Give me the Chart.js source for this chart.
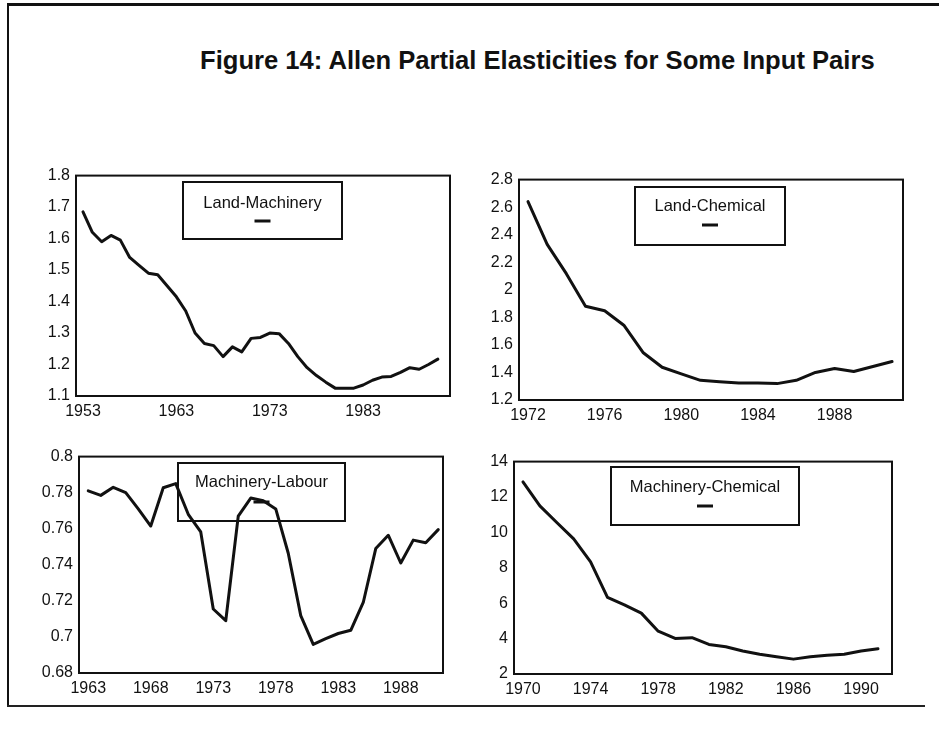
<!DOCTYPE html>
<html>
<head>
<meta charset="utf-8">
<script src="https://cdn.jsdelivr.net/npm/chart.js@4.4.1/dist/chart.umd.min.js"></script>
<style>
  body { margin: 0; background: #fff; width: 939px; height: 730px; position: relative; overflow: hidden;
         font-family: "Liberation Sans", Arial, Helvetica, sans-serif; }
  .frame-top { position: absolute; left: 7px; top: 3px; width: 932px; height: 3px; background: #111; }
  .frame-left { position: absolute; left: 7px; top: 3px; width: 2px; height: 704px; background: #111; }
  .frame-bottom { position: absolute; left: 7px; top: 705px; width: 918px; height: 2px; background: #222; }
  h1 { position: absolute; left: 200px; top: 46px; margin: 0; font-size: 25.6px; line-height: 28px;
       font-weight: bold; white-space: nowrap; color: #111; }
  canvas { position: absolute; }
</style>
</head>
<body>
<div class="frame-top"></div>
<div class="frame-left"></div>
<div class="frame-bottom"></div>
<h1>Figure 14: Allen Partial Elasticities for Some Input Pairs</h1>
<canvas id="chart1"></canvas>
<canvas id="chart2"></canvas>
<canvas id="chart3"></canvas>
<canvas id="chart4"></canvas>
<script>
// Land-Machinery, 1953-1991
const lmYears = [1953,1954,1955,1956,1957,1958,1959,1960,1961,1962,1963,1964,1965,1966,1967,1968,1969,1970,
  1971,1972,1973,1974,1975,1976,1977,1978,1979,1980,1981,1982,1983,1984,1985,1986,1987,1988,1989,1990,1991]
const lmValues = [1.685,1.62,1.59,1.61,1.595,1.54,1.515,1.49,1.485,1.45,1.415,1.37,1.30,1.267,1.26,1.225,1.256,1.24,
  1.283,1.286,1.30,1.298,1.267,1.225,1.19,1.165,1.144,1.125,1.125,1.125,1.135,1.15,1.16,1.162,1.175,1.19,1.185,1.20,1.217]
const lmXTicks = [1953,1963,1973,1983]
const lmYTicks = [1.1,1.2,1.3,1.4,1.5,1.6,1.7,1.8]

// Land-Chemical, 1972-1991
const lcYears = [1972,1973,1974,1975,1976,1977,1978,1979,1980,1981,1982,1983,1984,1985,1986,1987,1988,1989,1990,1991]
const lcValues = [2.64,2.33,2.117,1.88,1.848,1.743,1.545,1.438,1.39,1.343,1.333,1.324,1.324,1.319,1.343,1.40,1.429,1.407,1.443,1.479]
const lcXTicks = [1972,1976,1980,1984,1988]
const lcYTicks = [1.2,1.4,1.6,1.8,2,2.2,2.4,2.6,2.8]

// Machinery-Labour, 1963-1991
const mlYears = [1963,1964,1965,1966,1967,1968,1969,1970,1971,1972,1973,1974,1975,1976,1977,1978,1979,1980,
  1981,1982,1983,1984,1985,1986,1987,1988,1989,1990,1991]
const mlValues = [0.781,0.7785,0.783,0.780,0.771,0.7615,0.7827,0.785,0.768,0.7582,0.7155,0.709,0.767,0.777,0.7755,0.771,0.7464,0.7118,
  0.6959,0.699,0.7019,0.7037,0.7191,0.749,0.7564,0.741,0.7537,0.7522,0.7595]
const mlXTicks = [1963,1968,1973,1978,1983,1988]
const mlYTicks = [0.68,0.7,0.72,0.74,0.76,0.78,0.8]

// Machinery-Chemical, 1970-1991
const mcYears = [1970,1971,1972,1973,1974,1975,1976,1977,1978,1979,1980,1981,1982,1983,1984,1985,1986,1987,1988,1989,1990,1991]
const mcValues = [12.85,11.5,10.56,9.63,8.33,6.33,5.91,5.44,4.42,4.01,4.05,3.67,3.54,3.30,3.12,2.97,2.84,2.97,3.06,3.12,3.30,3.43]
const mcXTicks = [1970,1974,1978,1982,1986,1990]
const mcYTicks = [2,4,6,8,10,12,14]

const FONT = '"Liberation Sans", Arial, Helvetica, sans-serif'
const INK = '#111'
const AXIS_W = 50   // width kept for the y tick labels
const AXIS_H = 34   // height kept for the x tick labels
const PAD_T = 12
const PAD_R = 14

//draws the box round the plot area and the boxed legend
const framePlugin = {
  id: 'frame',
  afterDraw(chart, args, opts) {
    const {ctx, chartArea: a} = chart
    ctx.save()
    ctx.strokeStyle = INK
    ctx.lineWidth = 2
    ctx.strokeRect(a.left, a.top, a.right - a.left, a.bottom - a.top)
    // legend box, given in page coordinates
    const box = opts.box
    const ox = chart.canvas.offsetLeft, oy = chart.canvas.offsetTop
    const x = box.x - ox, y = box.y - oy
    ctx.strokeRect(x, y, box.w, box.h)
    ctx.fillStyle = INK
    ctx.font = '16.5px ' + FONT
    ctx.textAlign = 'center'
    ctx.textBaseline = 'middle'
    ctx.fillText(chart.data.datasets[0].label, x + box.w / 2, box.textY - oy)
    ctx.lineWidth = 3
    ctx.beginPath()
    ctx.moveTo(x + box.w / 2 - 8, box.lineY - oy)
    ctx.lineTo(x + box.w / 2 + 8, box.lineY - oy)
    ctx.stroke()
    ctx.restore()
  }
}

function makePanel(id, p) {
  const canvas = document.getElementById(id)
  const w = p.right - p.left + AXIS_W + PAD_R
  const h = p.bottom - p.top + PAD_T + AXIS_H
  canvas.width = w
  canvas.height = h
  canvas.style.width = w + 'px'
  canvas.style.height = h + 'px'
  canvas.style.left = (p.left - AXIS_W) + 'px'
  canvas.style.top = (p.top - PAD_T) + 'px'

  const points = p.years.map((yr, i) => ({x: yr, y: p.values[i]}))
  return new Chart(canvas, {
    type: 'line',
    data: {
      datasets: [{
        label: p.label,
        data: points,
        borderColor: INK,
        borderWidth: 3,
        pointRadius: 0,
        tension: 0,
        borderJoinStyle: 'round',
        borderCapStyle: 'round'
      }]
    },
    options: {
      responsive: false,
      animation: false,
      devicePixelRatio: 1,
      layout: {padding: {top: PAD_T, right: PAD_R, left: 0, bottom: 0}},
      plugins: {
        legend: {display: false},
        tooltip: {enabled: false},
        frame: {box: p.box}
      },
      scales: {
        x: {
          type: 'linear',
          min: p.xMin,
          max: p.xMax,
          afterBuildTicks: s => { s.ticks = p.xTicks.map(v => ({value: v})) },
          afterFit: s => { s.height = AXIS_H },
          grid: {display: false, drawTicks: false},
          border: {display: false},
          ticks: {
            color: INK, padding: 6, maxRotation: 0, autoSkip: false,
            font: {family: FONT, size: 16},
            callback: v => String(v)
          }
        },
        y: {
          min: p.yTicks[0],
          max: p.yTicks[p.yTicks.length - 1],
          afterBuildTicks: s => { s.ticks = p.yTicks.map(v => ({value: v})) },
          afterFit: s => { s.width = AXIS_W },
          grid: {display: false, drawTicks: false},
          border: {display: false},
          ticks: {
            color: INK, padding: 6, autoSkip: false,
            font: {family: FONT, size: 16},
            callback: v => String(v)
          }
        }
      }
    },
    plugins: [framePlugin]
  })
}

makePanel('chart1', {
  label: 'Land-Machinery', years: lmYears, values: lmValues, xTicks: lmXTicks, yTicks: lmYTicks,
  left: 76, top: 172, right: 450, bottom: 396, xMin: 1952.25, xMax: 1992.3,
  box: {x: 183, y: 182, w: 159, h: 57, textY: 203, lineY: 221}
})
makePanel('chart2', {
  label: 'Land-Chemical', years: lcYears, values: lcValues, xTicks: lcXTicks, yTicks: lcYTicks,
  left: 519, top: 176, right: 903, bottom: 400, xMin: 1971.53, xMax: 1991.57,
  box: {x: 635, y: 187, w: 150, h: 58, textY: 206, lineY: 225}
})
makePanel('chart3', {
  label: 'Machinery-Labour', years: mlYears, values: mlValues, xTicks: mlXTicks, yTicks: mlYTicks,
  left: 79, top: 453, right: 443, bottom: 673, xMin: 1962.26, xMax: 1991.38,
  box: {x: 178, y: 463, w: 167, h: 58, textY: 482, lineY: 502}
})
makePanel('chart4', {
  label: 'Machinery-Chemical', years: mcYears, values: mcValues, xTicks: mcXTicks, yTicks: mcYTicks,
  left: 514, top: 458, right: 892, bottom: 674, xMin: 1969.47, xMax: 1991.83,
  box: {x: 611, y: 467, w: 188, h: 58, textY: 487, lineY: 506}
})
</script>
</body>
</html>
